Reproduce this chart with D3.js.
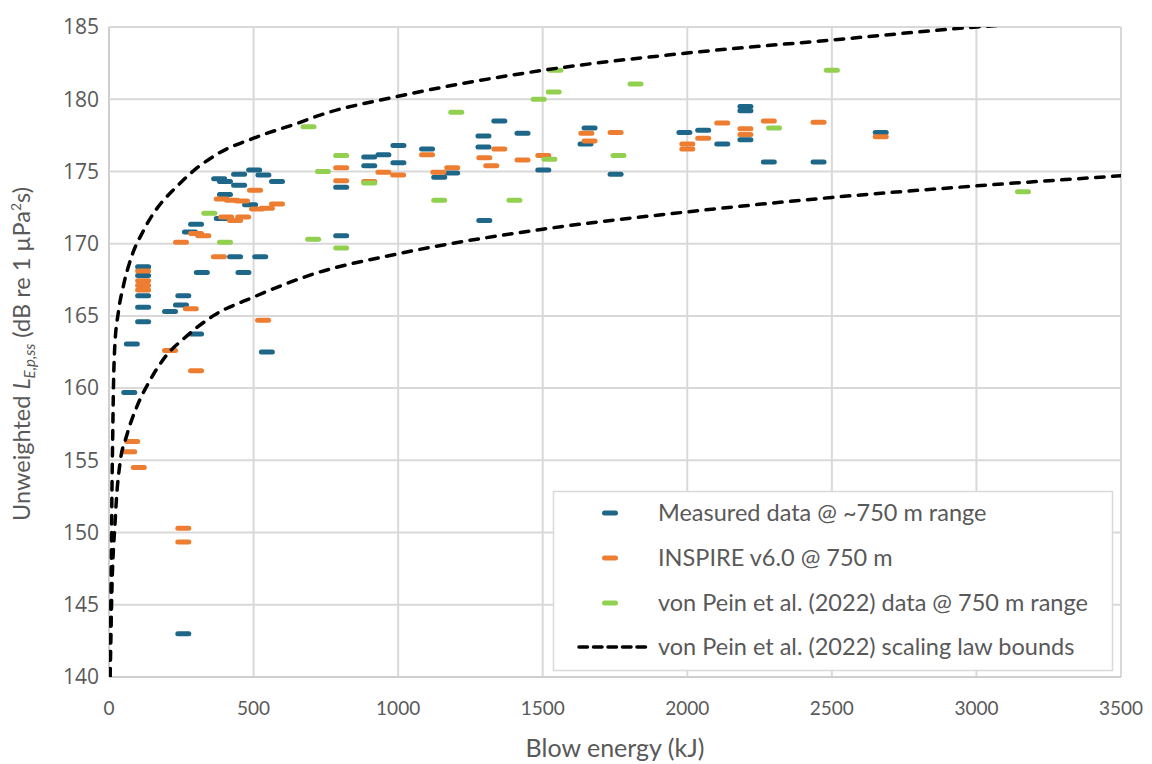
<!DOCTYPE html>
<html>
<head>
<meta charset="utf-8">
<script src="https://cdn.jsdelivr.net/npm/d3@7"></script>
<style>
  body { margin: 0; background: #fff; }
  svg text { fill: #595959; }
</style>
</head>
<body>
<div id="chart"></div>
<script>
// Tick labels
const xTicks = [0, 500, 1000, 1500, 2000, 2500, 3000, 3500];
const yTicks = [140, 145, 150, 155, 160, 165, 170, 175, 180, 185];

// Measured data @ ~750 m range (blow energy kJ, level dB)
const measuredE = [118, 118, 118, 118, 118, 79, 70, 257, 257, 249, 211, 301, 546, 321, 465, 436, 523,
  381, 401, 450, 502, 534, 581, 450, 401, 488, 390, 301, 280, 803, 803, 900, 949, 900, 1001, 1001,
  1100, 1142, 1187, 1295, 1295, 1350, 1430, 1502, 1298, 1662, 1648, 1752, 1990, 2055, 2121, 2201,
  2201, 2201, 2282, 2454, 2669];
const measuredL = [168.4, 167.8, 166.4, 165.6, 164.6, 163.05, 159.7, 143.0, 166.4, 165.75, 165.3, 163.75, 162.5, 168.0, 168.0, 169.1, 169.1,
  174.5, 174.3, 174.8, 175.1, 174.75, 174.3, 174.05, 173.4, 172.7, 171.75, 171.35, 170.8, 170.55, 173.9, 176.0, 176.15, 175.4, 175.6, 176.8,
  176.55, 174.6, 174.9, 177.45, 176.7, 178.5, 177.65, 175.1, 171.6, 178.0, 176.9, 174.8, 177.7, 177.85, 176.9, 179.5,
  179.2, 177.2, 175.65, 175.65, 177.7];

// INSPIRE v6.0 @ 750 m
const inspireE = [118, 118, 118, 118, 80, 70, 103, 257, 257, 211, 301, 283, 533, 249, 380, 301, 326,
  505, 390, 425, 460, 581, 512, 546, 405, 436, 464, 803, 803, 900, 949, 1000, 1100, 1139, 1187,
  1298, 1322, 1350, 1430, 1502, 1651, 1662, 1752, 2000, 2000, 2055, 2121, 2201, 2201, 2282, 2454, 2669];
const inspireL = [168.1, 167.44, 167.1, 166.8, 156.3, 155.6, 154.5, 150.3, 149.35, 162.6, 161.2, 165.5, 164.7, 170.1, 169.1, 170.7, 170.55,
  173.7, 173.1, 173.0, 172.95, 172.75, 172.4, 172.45, 171.85, 171.6, 171.85, 175.25, 174.35, 174.3, 174.95, 174.75, 176.15, 174.95, 175.25,
  175.95, 175.4, 176.55, 175.8, 176.1, 177.65, 177.1, 177.7, 176.9, 176.55, 177.3, 178.35, 177.95, 177.55, 178.5, 178.4, 177.4];

// von Pein et al. (2022) data @ 750 m range
const vonPeinE = [401, 706, 690, 740, 347, 803, 803, 900, 1142, 1402, 1523, 1762, 1544, 1538, 1486, 1201, 1821, 2300, 2500, 3161];
const vonPeinL = [170.1, 170.3, 178.1, 175.0, 172.1, 176.1, 169.7, 174.2, 173.0, 173.0, 175.85, 176.1, 182.0, 180.5, 180.0, 179.1, 181.05, 178.0, 182.0, 173.6];

// Scaling law bounds
const upperE = [2, 8, 10, 13, 15, 20, 32, 50, 78, 119, 257, 374, 500, 661, 730, 1000, 1500, 2000, 2500, 3000, 3500];
const upperL = [140, 147.9, 152.5, 156.9, 159.6, 162.9, 165.2, 167.1, 169.1, 170.9, 174.4, 176.2, 177.3, 178.4, 178.9, 180.2, 182.0, 183.2, 184.1, 185.0, 185.6];
const lowerE = [4, 10, 21, 26, 38, 61, 96, 142, 200, 257, 360, 500, 707, 1000, 1500, 2000, 2500, 3000, 3500];
const lowerL = [140, 146, 150.7, 152.4, 154.8, 156.7, 158.7, 160.55, 162.3, 163.4, 165.0, 166.3, 167.9, 169.3, 171.0, 172.2, 173.2, 174.0, 174.7];

const series = [
  { name: "Measured data @ ~750 m range", color: "#1f6788", E: measuredE, L: measuredL },
  { name: "INSPIRE v6.0 @ 750 m", color: "#ed7d31", E: inspireE, L: inspireL },
  { name: "von Pein et al. (2022) data @ 750 m range", color: "#92d050", E: vonPeinE, L: vonPeinL }
];

const width = 1152, height = 764;
const margin = { top: 27, right: 31, bottom: 87, left: 109 };

const svg = d3.select("#chart")
  .append("svg")
  .attr("width", width)
  .attr("height", height)
  .style("font-family", "Lato, 'Open Sans', sans-serif");

const x = d3.scaleLinear()
  .domain([0, 3500])
  .range([margin.left, width - margin.right]);
const y = d3.scaleLinear()
  .domain([140, 185])
  .range([height - margin.bottom, margin.top]);

svg.append("defs").append("clipPath")
  .attr("id", "plot")
  .append("rect")
  .attr("x", margin.left)
  .attr("y", margin.top)
  .attr("width", x(3500) - x(0))
  .attr("height", y(140) - y(185));

// Grid
svg.append("g")
  .selectAll("line")
  .data(xTicks)
  .join("line")
  .attr("x1", d => x(d)).attr("x2", d => x(d))
  .attr("y1", y(185)).attr("y2", y(140))
  .attr("stroke", d => d === 0 ? "#cfcfcf" : "#d9d9d9")
  .attr("stroke-width", 2);

svg.append("g")
  .selectAll("line")
  .data(yTicks)
  .join("line")
  .attr("x1", x(0)).attr("x2", x(3500))
  .attr("y1", d => y(d)).attr("y2", d => y(d))
  .attr("stroke", d => d === 140 ? "#cfcfcf" : "#d9d9d9")
  .attr("stroke-width", 2);

// Tick labels
svg.append("g")
  .selectAll("text")
  .data(yTicks)
  .join("text")
  .attr("x", margin.left - 10)
  .attr("y", d => y(d))
  .attr("dy", "0.35em")
  .attr("text-anchor", "end")
  .style("font-family", "'Open Sans', sans-serif")
  .style("font-size", "21px")
  .text(d => d);

svg.append("g")
  .selectAll("text")
  .data(xTicks)
  .join("text")
  .attr("x", d => x(d))
  .attr("y", y(140) + 38)
  .attr("text-anchor", "middle")
  .style("font-size", "19px")
  .text(d => d);

// Axis titles
svg.append("text")
  .attr("x", (x(0) + x(3500)) / 2)
  .attr("y", 757)
  .attr("text-anchor", "middle")
  .style("font-size", "25px")
  .text("Blow energy (kJ)");

const yTitle = svg.append("text")
  .attr("transform", `translate(30,${(y(140) + y(185)) / 2 + 2}) rotate(-90)`)
  .attr("text-anchor", "middle")
  .style("font-size", "23.5px");
yTitle.append("tspan").text("Unweighted ");
yTitle.append("tspan").style("font-style", "italic").text("L");
yTitle.append("tspan").style("font-style", "italic").style("font-size", "15px").attr("dy", 5).text("E,p,ss");
yTitle.append("tspan").attr("dy", -5).text(" (dB re 1 µPa");
yTitle.append("tspan").style("font-size", "14px").attr("dy", -9).text("2");
yTitle.append("tspan").attr("dy", 9).text("s)");

// Markers
const markW = 16, markH = 5;
series.forEach(s => {
  svg.append("g")
    .selectAll("rect")
    .data(d3.zip(s.E, s.L))
    .join("rect")
    .attr("x", d => x(d[0]) - markW / 2)
    .attr("y", d => y(d[1]) - markH / 2)
    .attr("width", markW)
    .attr("height", markH)
    .attr("rx", 2.5)
    .attr("fill", s.color);
});

// Bounds
const line = d3.line()
  .x(d => x(d[0]))
  .y(d => y(d[1]))
  .curve(d3.curveMonotoneX);

[d3.zip(upperE, upperL), d3.zip(lowerE, lowerL)].forEach(pts => {
  svg.append("path")
    .datum(pts)
    .attr("clip-path", "url(#plot)")
    .attr("d", line)
    .attr("fill", "none")
    .attr("stroke", "#000")
    .attr("stroke-width", 3.5)
    .attr("stroke-linecap", "round")
    .attr("stroke-dasharray", "8.5,8.5");
});

// Legend
const legend = svg.append("g");
legend.append("rect")
  .attr("x", 553.5).attr("y", 491.5)
  .attr("width", 559).attr("height", 179)
  .attr("fill", "#fff")
  .attr("stroke", "#d9d9d9")
  .attr("stroke-width", 1.5);

const rows = [513, 558, 603, 647];
series.forEach((s, i) => {
  legend.append("rect")
    .attr("x", 610 - markW / 2).attr("y", rows[i] - markH / 2)
    .attr("width", markW).attr("height", markH)
    .attr("rx", 2.5)
    .attr("fill", s.color);
  legend.append("text")
    .attr("x", 658).attr("y", rows[i])
    .attr("dy", "0.35em")
    .style("font-size", "23.5px")
    .text(s.name);
});
legend.append("line")
  .attr("x1", 579).attr("x2", 648)
  .attr("y1", rows[3]).attr("y2", rows[3])
  .attr("stroke", "#000")
  .attr("stroke-width", 3.5)
  .attr("stroke-linecap", "round")
  .attr("stroke-dasharray", "8.5,6");
legend.append("text")
  .attr("x", 658).attr("y", rows[3])
  .attr("dy", "0.35em")
  .style("font-size", "23.5px")
  .text("von Pein et al. (2022) scaling law bounds");
</script>
</body>
</html>
